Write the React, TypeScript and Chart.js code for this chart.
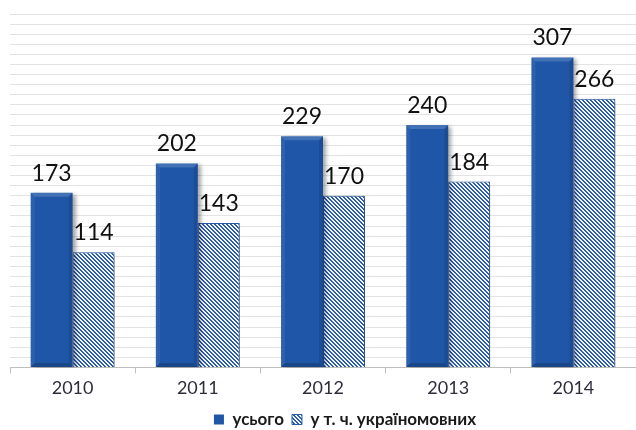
import React, { useEffect, useRef } from "react";
import { Chart, registerables } from "chart.js";

Chart.register(...registerables);

const categories = ["2010", "2011", "2012", "2013", "2014"];
const totalValues = [173, 202, 229, 240, 307];
const ukrValues = [114, 143, 170, 184, 266];
const seriesLabels = ["усього", "у т. ч. україномовних"];
const yMax = 350;
const yStep = 10;

const BLUE = "#1f56a7";
const HATCH_BLUE = "#2a5caa";
const FONT = "Lato, 'Noto Sans', sans-serif";

function makeHatch(): CanvasPattern | string {
  const n = 4;
  const c = document.createElement("canvas");
  c.width = n;
  c.height = n;
  const g = c.getContext("2d");
  if (!g) return HATCH_BLUE;
  for (let py = 0; py < n; py++) {
    for (let px = 0; px < n; px++) {
      const k = (((px - py) % n) + n) % n;
      g.fillStyle = k < 2 ? "#f4f7fc" : HATCH_BLUE;
      g.fillRect(px, py, 1, 1);
    }
  }
  const p = g.createPattern(c, "repeat");
  return p || HATCH_BLUE;
}

const effectsPlugin = {
  id: "effects",
  afterLayout(chart: any) {
    const lg = chart.legend;
    if (lg) {
      lg.left += 22;
      lg.right += 22;
    }
  },
  beforeDatasetsDraw(chart: any) {
    const ctx = chart.ctx;
    ctx.save();
    ctx.shadowColor = "rgba(0,0,0,0.35)";
    ctx.shadowOffsetX = 3;
    ctx.shadowOffsetY = 2;
    ctx.shadowBlur = 4;
  },
  afterDatasetsDraw(chart: any) {
    const ctx = chart.ctx;
    ctx.restore();
    const meta0 = chart.getDatasetMeta(0);
    meta0.data.forEach((bar: any) => {
      const { x, y, base, width } = bar.getProps(["x", "y", "base", "width"], true);
      const l = x - width / 2;
      const r = x + width / 2;
      const b = 4;
      ctx.save();
      ctx.fillStyle = "rgba(255,255,255,0.16)";
      ctx.beginPath();
      ctx.moveTo(l, y);
      ctx.lineTo(r, y);
      ctx.lineTo(r - b, y + b);
      ctx.lineTo(l + b, y + b);
      ctx.closePath();
      ctx.fill();
      ctx.fillStyle = "rgba(255,255,255,0.07)";
      ctx.beginPath();
      ctx.moveTo(l, y);
      ctx.lineTo(l + b, y + b);
      ctx.lineTo(l + b, base - b);
      ctx.lineTo(l, base);
      ctx.closePath();
      ctx.fill();
      ctx.fillStyle = "rgba(0,0,0,0.10)";
      ctx.beginPath();
      ctx.moveTo(r, y);
      ctx.lineTo(r - b, y + b);
      ctx.lineTo(r - b, base - b);
      ctx.lineTo(r, base);
      ctx.closePath();
      ctx.fill();
      ctx.fillStyle = "rgba(0,0,0,0.18)";
      ctx.beginPath();
      ctx.moveTo(l, base);
      ctx.lineTo(l + b, base - b);
      ctx.lineTo(r - b, base - b);
      ctx.lineTo(r, base);
      ctx.closePath();
      ctx.fill();
      ctx.restore();
    });
    ctx.save();
    ctx.fillStyle = "#111111";
    ctx.font = `23px ${FONT}`;
    ctx.textAlign = "center";
    ctx.textBaseline = "bottom";
    chart.data.datasets.forEach((ds: any, di: number) => {
      const meta = chart.getDatasetMeta(di);
      meta.data.forEach((bar: any, i: number) => {
        const { x, y } = bar.getProps(["x", "y"], true);
        ctx.fillText(String(ds.data[i]), x, y - 8);
      });
    });
    ctx.restore();
  },
};

export default function App() {
  const ref = useRef<HTMLCanvasElement | null>(null);

  useEffect(() => {
    document.body.style.margin = "0";
    if (!ref.current) return;
    const hatch = makeHatch();
    const chart = new Chart(ref.current, {
      type: "bar",
      data: {
        labels: categories,
        datasets: [
          {
            label: seriesLabels[0],
            data: totalValues,
            backgroundColor: BLUE,
            borderWidth: 0,
            categoryPercentage: 0.67,
            barPercentage: 1.0,
          },
          {
            label: seriesLabels[1],
            data: ukrValues,
            backgroundColor: hatch as any,
            borderColor: HATCH_BLUE,
            borderWidth: 1,
            categoryPercentage: 0.67,
            barPercentage: 1.0,
          },
        ],
      },
      options: {
        animation: false,
        responsive: false,
        devicePixelRatio: 1,
        layout: { padding: { left: 10, right: 0, top: 14, bottom: -8 } },
        scales: {
          x: {
            offset: true,
            grid: {
              offset: true,
              drawOnChartArea: false,
              drawTicks: true,
              tickLength: 6,
              color: "#bfbfbf",
            },
            border: { display: true, color: "#bfbfbf" },
            ticks: {
              color: "#2e2e3a",
              font: { family: FONT, size: 18 },
              padding: 4,
            },
          },
          y: {
            min: 0,
            max: yMax,
            ticks: { display: false, stepSize: yStep },
            grid: { color: "#e3e3e3", drawTicks: false },
            border: { display: false },
          },
        },
        plugins: {
          legend: {
            position: "bottom",
            labels: {
              boxWidth: 10,
              boxHeight: 10,
              color: "#1a1a1a",
              font: { family: FONT, size: 17, weight: "bold" },
              padding: 8,
            },
          },
          tooltip: { enabled: false },
        },
      },
      plugins: [effectsPlugin],
    });
    return () => chart.destroy();
  }, []);

  return (
    <div style={{ width: 636, height: 430 }}>
      <canvas ref={ref} width={636} height={430} style={{ display: "block" }} />
    </div>
  );
}
